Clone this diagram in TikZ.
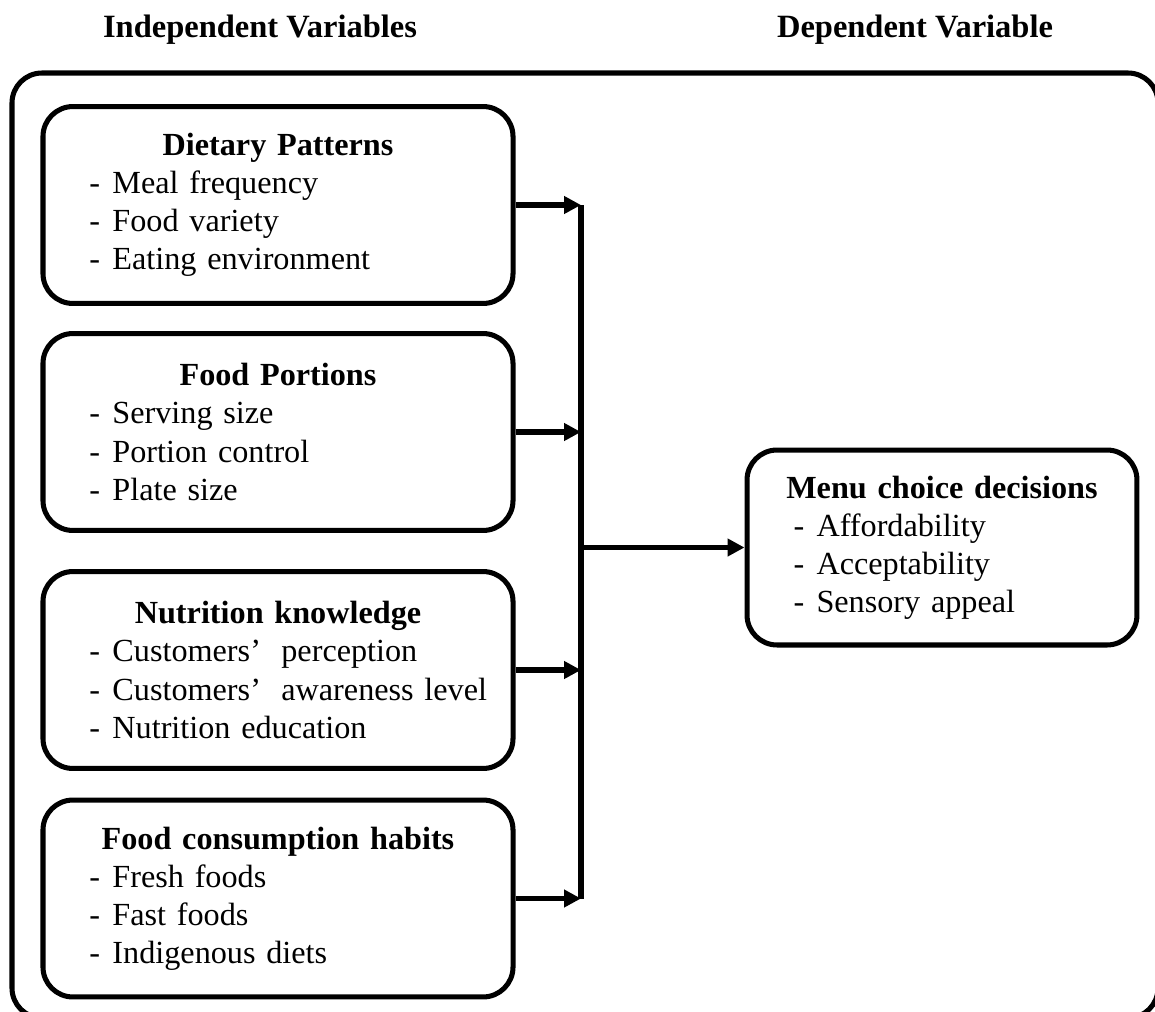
\documentclass[tikz,border=0pt]{standalone}
\usepackage{fontspec}
\setmainfont{Liberation Serif}
\usepackage{tikz}
\usetikzlibrary{arrows.meta}

\newcommand{\boxhead}[1]{\makebox[\linewidth]{\bfseries #1}}
\newcommand{\boxitem}[1]{\hspace*{16.6pt}\makebox[8.2pt][l]{-}\mbox{#1}}

\begin{document}
\begin{tikzpicture}[x=0.357pt, y=-0.357pt,
    factor/.style={draw, line width=1.8pt, rounded corners=10.7pt, align=left,
        inner xsep=0pt, inner ysep=0pt, minimum height=70.3pt,
        text width=167.8pt, font=\fontsize{11.5}{13.6}\selectfont},
    link/.style={line width=1.8pt, -{Triangle[length=6pt, width=6pt]}},
    heading/.style={font=\fontsize{11.6}{13.6}\selectfont\bfseries}]

    %% Background
    \clip (0,0) rectangle (1155,1012);

    % Headings
    \node[heading] (indep) at (260,30) {Independent Variables};
    \node[heading] (dep) at (915,30) {Dependent Variable};

    % Frame
    \draw[line width=1.8pt, rounded corners=10.7pt] (12,73) rectangle (1158,1018);

    % Independent variables
    \node[factor] (dp) at (278,205)
    {\boxhead{Dietary Patterns}\\ \boxitem{Meal frequency}\\ \boxitem{Food variety}\\ \boxitem{Eating environment}};
    \node[factor] (fp) at (278,432)
    {\boxhead{Food Portions}\\ \boxitem{Serving size}\\ \boxitem{Portion control}\\ \boxitem{Plate size}};
    \node[factor] (nk) at (278,670)
    {\boxhead{Nutrition knowledge}\\ \boxitem{Customers’\hspace{0.3em} perception}\\ \boxitem{Customers’\hspace{0.3em} awareness level}\\ \boxitem{Nutrition education}};
    \node[factor] (fc) at (278,898.5)
    {\boxhead{Food consumption habits}\\ \boxitem{Fresh foods}\\ \boxitem{Fast foods}\\ \boxitem{Indigenous diets}};

    % Dependent variable
    \node[factor, text width=139.2pt, minimum height=69.6pt] (mc) at (942,547.5)
    {\boxhead{Menu choice decisions}\\ \boxitem{Affordability}\\ \boxitem{Acceptability}\\ \boxitem{Sensory appeal}};

    %Arrows
    \coordinate (bus) at (581,0);
    \foreach \f in {dp,fp,nk,fc}
    {
    \draw[link] (\f.east) -- (\f.east -| bus);
    }
    \draw[line width=1.8pt] (dp.east -| bus) -- (fc.east -| bus);
    \draw[link] (mc.west -| bus) -- (mc.west);

\end{tikzpicture}
\end{document}
